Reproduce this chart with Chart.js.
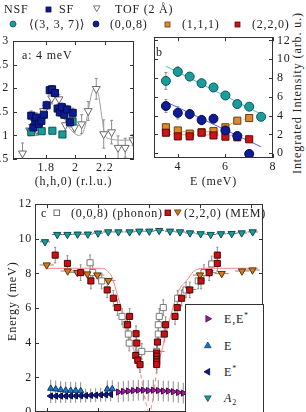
<!DOCTYPE html>
<html>
<head>
<meta charset="utf-8">
<script src="https://cdn.jsdelivr.net/npm/chart.js@4.4.1/dist/chart.umd.min.js"></script>
<style>
html, body { margin: 0; padding: 0; width: 306px; height: 412px; overflow: hidden; background: #fff; }
body { position: relative; font-family: "Liberation Serif", "DejaVu Serif", serif; color: #222; }
canvas { position: absolute; }
.t { position: absolute; font-size: 12px; line-height: 14px; letter-spacing: 0.8px; white-space: nowrap; z-index: 6; }
.rot { position: absolute; transform-origin: 0 0; transform: rotate(-90deg); font-size: 12px; line-height: 14px; letter-spacing: 0.9px; white-space: nowrap; }
#legc { position: absolute; left: 185px; top: 304px; width: 77px; height: 130px; border: 1px solid #333; background: #fff; z-index: 5; }
sup { font-size: 8px; vertical-align: 5px; line-height: 0; }
sub { font-size: 8px; vertical-align: -3px; line-height: 0; }
</style>
</head>
<body>
<canvas id="chartA" width="160" height="165" style="left:-20px;top:30px"></canvas>
<canvas id="chartB" width="150" height="169" style="left:140px;top:26px"></canvas>
<canvas id="chartC" width="275" height="240" style="left:0px;top:194px"></canvas>

<div class="t" style="left:4px;top:2px">NSF</div>
<div class="t" style="left:59px;top:2px">SF</div>
<div class="t" style="left:115px;top:2px">TOF (2 Å)</div>
<div class="t" style="left:29px;top:17px">⟨(3, 3, 7)⟩</div>
<div class="t" style="left:110px;top:17px">(0,0,8)</div>
<div class="t" style="left:182px;top:17px">(1,1,1)</div>
<div class="t" style="left:252px;top:17px">(2,2,0)</div>

<div class="t" style="left:22px;top:48px">a: 4 meV</div>
<div class="t" style="left:156px;top:45px">b</div>
<div class="rot" style="left:290px;top:174px">Integrated Intensity (arb. u.)</div>

<div class="t" style="left:41px;top:206px">c</div>
<div class="t" style="left:71px;top:206px">(0,0,8) (phonon)</div>
<div class="t" style="left:184px;top:206px">(2,2,0) (MEM)</div>
<div class="rot" style="left:5px;top:341px">Energy (meV)</div>

<div id="legc">
  <div class="t" style="left:38px;top:7px">E,E<sup>*</sup></div>
  <div class="t" style="left:38px;top:34px">E</div>
  <div class="t" style="left:38px;top:60px">E<sup>*</sup></div>
  <div class="t" style="left:38px;top:86px"><i>A</i><sub>2</sub></div>
</div>

<script>
// ---- panel a : 4 meV scan along (h,h,0)
const aSfH = [1.698, 1.713, 1.725, 1.732, 1.749, 1.767, 1.784, 1.803, 1.824, 1.840, 1.860, 1.878, 1.893, 1.907, 1.924, 1.943, 1.962, 1.981];
const aSfI = [1.42, 1.17, 1.30, 1.38, 1.25, 1.31, 1.44, 1.64, 1.96, 1.98, 1.90, 1.57, 1.49, 1.60, 1.44, 1.55, 1.28, 1.48];
const aSfErr = [0.1, 0.1, 0.09, 0.1, 0.09, 0.09, 0.09, 0.09, 0.08, 0.08, 0.08, 0.09, 0.09, 0.09, 0.08, 0.09, 0.1, 0.1];
const aNsfH = [1.698, 1.769, 1.842, 1.911, 1.980];
const aNsfI = [1.07, 1.09, 1.10, 1.02, 1.30];
const aNsfErr = [0.06, 0.06, 0.06, 0.06, 0.06];
const aTofH = [1.638, 1.687, 1.736, 1.782, 1.838, 1.887, 1.931, 1.993, 2.042, 2.087, 2.142, 2.193, 2.247, 2.291, 2.340, 2.393];
const aTofI = [0.62, 1.11, 1.12, 1.52, 1.79, 1.77, 1.22, 1.17, 1.24, 1.52, 1.99, 1.03, 1.07, 0.74, 0.74, 0.90];
const aTofErr = [0.22, 0.12, 0.12, 0.12, 0.12, 0.1, 0.12, 0.1, 0.2, 0.2, 0.22, 0.3, 0.25, 0.25, 0.2, 0.12];
const aFitH = [1.92, 1.95, 1.975, 2.0, 2.02, 2.05, 2.07, 2.09, 2.11, 2.136, 2.16, 2.18, 2.2, 2.23, 2.26, 2.3, 2.4];
const aFitI = [1.40, 1.20, 1.10, 1.03, 1.00, 1.05, 1.25, 1.58, 1.88, 2.03, 1.82, 1.40, 1.02, 0.93, 0.91, 0.90, 0.90];
const aTicksX = [1.8, 2.0, 2.2];
const aTicksY = [0.5, 1, 1.5, 2, 2.5, 3];

// ---- panel b : integrated intensity vs energy
const bE = [3.5, 4, 4.5, 5, 5.5, 6, 6.5, 7, 7.5];
const b337 = [7.7, 8.68, 8.16, 7.46, 7.0, 6.15, 5.24, 4.96, 3.88];
const b337Err = [0.9, 0.5, 0.3, 0.3, 0.35, 0.3, 0.3, 0.3, 0.3];
const b008 = [5.03, 4.3, 4.17, 3.54, 3.68, 2.43, 1.84, -0.07];
const b008Err = [0.7, 0.65, 0.5, 0.5, 0.2, 0.3, 0.3, 0.2];
const b111 = [2.77, 2.43, 2.1, 2.25, 2.36, 2.77, 3.47, 3.75];
const b220 = [2.19, 1.8, 1.8, 2.19, 1.9, 1.77, 1.7, 1.49];
const bSmallErr = [0.3, 0.3, 0.3, 0.3, 0.3, 0.3, 0.3, 0.3];
const bFit337E = [3.5, 7.5], bFit337 = [9.27, 4.17];
const bFit008E = [3.5, 7.5], bFit008 = [5.48, 0.69];
const bFit111E = [3.5, 5.5, 6.5, 7], bFit111 = [2.3, 2.3, 3.45, 3.75];
const bFit220E = [3.5, 7], bFit220 = [2.0, 1.9];
const bTicksX = [4, 6, 8];
const bTicksY = [0, 2, 4, 6, 8, 10, 12];

// ---- panel c : dispersion
const cA2Q = [-1.02, -0.90, -0.80, -0.70, -0.60, -0.50, -0.40, -0.30, -0.19, -0.095, 0.003, 0.10, 0.206, 0.304, 0.402, 0.507, 0.605, 0.706, 0.811, 0.909, 1.017];
const cA2E = [9.83, 10.25, 10.25, 10.27, 10.27, 10.33, 10.40, 10.40, 10.40, 10.44, 10.44, 10.48, 10.44, 10.40, 10.34, 10.29, 10.25, 10.29, 10.30, 10.34, 10.40];
const cMemQ = [-1.003, -0.797, -0.703, -0.605, -0.507, -0.399, 0.395, 0.50, 0.593, 0.713, 0.912, 1.015];
const cMemE = [8.49, 8.14, 8.05, 7.97, 7.91, 7.59, 7.07, 7.91, 8.05, 7.99, 8.14, 8.2];
const cRedQ = [-0.92, -0.80, -0.67, -0.57, -0.41, -0.35, -0.31, -0.21, -0.19, -0.127, -0.12, -0.13, -0.11, -0.088,
               0.075, 0.075, 0.075, 0.075, 0.075, 0.083, 0.15, 0.163, 0.255, 0.277, 0.32, 0.40, 0.51, 0.59, 0.67, 0.67];
const cRedE = [9.06, 8.58, 8.05, 7.57, 7.05, 6.57, 6.03, 5.04, 5.52, 4.52, 3.98, 3.26, 2.99, 2.74,
               3.41, 3.22, 3.03, 2.89, 2.74, 4.04, 4.5, 5.04, 5.52, 6.03, 6.57, 7.05, 7.57, 8.05, 8.58, 9.06];
const cPhQ = [-0.578, -0.552, -0.464, -0.265, -0.225, -0.203, -0.194, -0.071, 0.075, 0.091, 0.091, 0.101, 0.140, 0.281, 0.363, 0.483, 0.539, 0.615];
const cPhE = [8.62, 8.05, 7.57, 5.52, 5.04, 4.5, 3.98, 3.5, 3.5, 4.5, 5.04, 5.52, 6.03, 6.57, 7.05, 7.57, 8.05, 8.55];
const cEQ = [-0.964, -0.915, -0.866, -0.817, -0.768, -0.719, -0.670, -0.409, -0.360];
const cEE = [1.36, 1.32, 1.28, 1.25, 1.24, 1.24, 1.22, 1.32, 1.33];
const cEsQ = [-0.964, -0.915, -0.866, -0.817, -0.768, -0.719, -0.670, -0.621, -0.572, -0.523, -0.474, -0.425, -0.376];
const cEsE = [0.92, 0.92, 0.92, 0.92, 0.93, 0.93, 0.94, 0.95, 0.96, 0.97, 0.99, 1.0, 1.02];
const cMixQ = [-0.301, -0.252, -0.203, -0.154, -0.105, -0.056, -0.007, 0.042, 0.091, 0.140, 0.189, 0.238, 0.287, 0.336];
const cMixE = [1.15, 1.19, 1.21, 1.24, 1.26, 1.26, 1.24, 1.26, 1.24, 1.21, 1.21, 1.17, 1.13, 1.09];
const cFitLQ = [-1.003, -0.48, -0.431, -0.402, -0.363, -0.324, -0.235, -0.167, -0.095];
const cFitLE = [8.3, 8.3, 8.25, 8.1, 7.8, 7.05, 5.3, 3.95, 2.55];
const cFitMidQ = [-0.095, 0.005, 0.081];
const cFitMidE = [2.55, 0.0, 2.55];
const cFitRQ = [0.081, 0.287, 0.370, 0.434, 0.48, 0.53, 1.07];
const cFitRE = [2.55, 6.95, 7.6, 8.1, 8.25, 8.3, 8.3];
const cTicksX = [-1, -0.5, 0, 0.5, 1];
const cTicksY = [0, 2, 4, 6, 8, 10, 12];

const serif = 'Liberation Serif';
Chart.defaults.font.family = serif;
Chart.defaults.font.size = 12;
Chart.defaults.color = '#222';

const pts = (xs, ys) => xs.map((x, i) => ({ x: x, y: ys[i] }));
const fmt = v => String(+(+v).toFixed(2));

// error bars, drawn under the markers
const errorBars = {
    id: 'errorBars',
    beforeDatasetsDraw(chart) {
        const { ctx, chartArea: a } = chart;
        const sx = chart.scales.x, sy = chart.scales.y;
        ctx.save();
        ctx.beginPath();
        ctx.rect(a.left, a.top, a.width, a.height);
        ctx.clip();
        ctx.lineWidth = 1;
        chart.data.datasets.forEach(ds => {
            if (!ds.errY && !ds.errX) return;
            const cap = ds.errCap || 0;
            ctx.strokeStyle = ds.errColor || '#8c8c8c';
            ds.data.forEach((p, i) => {
                const px = sx.getPixelForValue(p.x), py = sy.getPixelForValue(p.y);
                const ey = Array.isArray(ds.errY) ? ds.errY[i] : ds.errY;
                const ex = Array.isArray(ds.errX) ? ds.errX[i] : ds.errX;
                ctx.beginPath();
                if (ey) {
                    const y1 = sy.getPixelForValue(p.y + ey), y2 = sy.getPixelForValue(p.y - ey);
                    ctx.moveTo(px, y1); ctx.lineTo(px, y2);
                    if (cap) {
                        ctx.moveTo(px - cap, y1); ctx.lineTo(px + cap, y1);
                        ctx.moveTo(px - cap, y2); ctx.lineTo(px + cap, y2);
                    }
                }
                if (ex) {
                    const x1 = sx.getPixelForValue(p.x - ex), x2 = sx.getPixelForValue(p.x + ex);
                    ctx.moveTo(x1, py); ctx.lineTo(x2, py);
                }
                ctx.stroke();
            });
        });
        ctx.restore();
    }
};

// box with inward ticks on all four sides
const frame = {
    id: 'frame',
    afterDatasetsDraw(chart) {
        const { ctx, chartArea: a } = chart;
        const sx = chart.scales.x, sy = chart.scales.y;
        const L = 4;
        ctx.save();
        ctx.strokeStyle = '#333';
        ctx.lineWidth = 1;
        ctx.strokeRect(Math.round(a.left) + 0.5, Math.round(a.top) + 0.5, Math.round(a.width) - 1, Math.round(a.height) - 1);
        ctx.beginPath();
        sx.ticks.forEach(t => {
            const x = Math.round(sx.getPixelForValue(t.value)) + 0.5;
            ctx.moveTo(x, a.bottom); ctx.lineTo(x, a.bottom - L);
            ctx.moveTo(x, a.top); ctx.lineTo(x, a.top + L);
        });
        sy.ticks.forEach(t => {
            const y = Math.round(sy.getPixelForValue(t.value)) + 0.5;
            ctx.moveTo(a.left, y); ctx.lineTo(a.left + L, y);
            ctx.moveTo(a.right, y); ctx.lineTo(a.right - L, y);
        });
        ctx.stroke();
        ctx.restore();
    }
};

const spacing = {
    id: 'spacing',
    beforeDraw(chart) { chart.ctx.letterSpacing = '0.8px'; }
};

function axis(o) {
    return {
        type: 'linear',
        position: o.position,
        min: o.min,
        max: o.max,
        afterBuildTicks: s => { s.ticks = o.ticks.map(v => ({ value: v })); },
        afterFit: s => { if (s.isHorizontal()) s.height = o.size; else s.width = o.size; },
        grid: { display: false, drawTicks: false },
        border: { display: false },
        ticks: { display: o.labels !== false, padding: o.pad, color: '#222', font: { family: serif, size: 12 }, callback: fmt },
        title: o.title ? { display: true, text: o.title, color: '#222', font: { family: serif, size: 12 }, padding: { top: 0, bottom: 6 } } : { display: false }
    };
}

function marks(xs, ys, style) {
    return Object.assign({ data: pts(xs, ys), pointBorderWidth: 1, showLine: false }, style);
}

function curve(xs, ys, color, dash, order) {
    return {
        data: pts(xs, ys), showLine: true, pointRadius: 0, borderColor: color, borderWidth: 1,
        borderDash: dash || [], cubicInterpolationMode: 'monotone', fill: false, order: order || 10
    };
}

function makeChart(id, datasets, scales, padding) {
    return new Chart(document.getElementById(id), {
        type: 'scatter',
        data: { datasets: datasets },
        options: {
            responsive: false,
            animation: false,
            events: [],
            layout: { padding: padding },
            plugins: { legend: { display: false }, tooltip: { enabled: false } },
            scales: scales
        },
        plugins: [spacing, errorBars, frame]
    });
}

// panel a
makeChart('chartA', [
    marks(aSfH, aSfI, { pointStyle: 'rect', pointRadius: 5, pointBackgroundColor: '#0d1c94', pointBorderColor: '#050c4a', errY: aSfErr, errCap: 1.5 }),
    marks(aNsfH, aNsfI, { pointStyle: 'rect', pointRadius: 5, pointBackgroundColor: '#1a9c9c', pointBorderColor: '#0b5656', errY: aNsfErr, errCap: 1.5 }),
    marks(aTofH, aTofI, { pointStyle: 'triangle', pointRotation: 180, pointRadius: 4.6, pointBackgroundColor: '#ffffff', pointBorderColor: '#6a6a6a', errY: aTofErr, errCap: 1.5 }),
    curve(aFitH, aFitI, '#a0a0a0')
], {
    x: axis({ min: 1.573, max: 2.4, ticks: aTicksX, size: 36, pad: 2, title: '(h,h,0) (r.l.u.)' }),
    y: axis({ min: 0.5, max: 3, ticks: aTicksY, size: 33, pad: 4 })
}, { left: 0, right: 3, top: 9, bottom: 0 });

// panel b
makeChart('chartB', [
    marks(bE, b337, { pointStyle: 'circle', pointRadius: 4.5, pointBackgroundColor: '#1a9c9c', pointBorderColor: '#0b5656', errY: b337Err, errCap: 1.5 }),
    marks(bE.slice(0, 8), b008, { pointStyle: 'circle', pointRadius: 4.5, pointBackgroundColor: '#0d1c94', pointBorderColor: '#050c4a', errY: b008Err, errCap: 1.5 }),
    marks(bE.slice(0, 8), b220, { pointStyle: 'rect', pointRadius: 5, pointBackgroundColor: '#cc1414', pointBorderColor: '#5a0808', errY: bSmallErr, errCap: 1.5 }),
    marks(bE.slice(0, 8), b111, { pointStyle: 'rect', pointRadius: 5, pointBackgroundColor: '#dc8a30', pointBorderColor: '#6a3e0c', errY: bSmallErr, errCap: 1.5 }),
    curve(bFit337E, bFit337, '#45c4c4'),
    curve(bFit008E, bFit008, '#5a5aff'),
    curve(bFit111E, bFit111, '#f0a868', [5, 3]),
    curve(bFit220E, bFit220, '#f59a9a', [5, 3])
], {
    x: axis({ min: 3, max: 8, ticks: bTicksX, size: 37, pad: 2, title: 'E (meV)' }),
    y: axis({ position: 'right', min: -0.5, max: 12.35, ticks: bTicksY, size: 17, pad: 4 })
}, { left: 14, right: 0, top: 9, bottom: 0 });

// panel c
makeChart('chartC', [
    marks(cRedQ, cRedE, { pointStyle: 'rect', pointRadius: 4.3, pointBackgroundColor: '#c81212', pointBorderColor: '#4a0606', errY: 0.45, errCap: 1 }),
    marks(cMemQ, cMemE, { pointStyle: 'triangle', pointRotation: 180, pointRadius: 4.2, pointBackgroundColor: '#d47a18', pointBorderColor: '#5a3208', errX: 0.07, errY: 0.08 }),
    marks(cPhQ, cPhE, { pointStyle: 'rect', pointRadius: 4.3, pointBackgroundColor: '#ffffff', pointBorderColor: '#7a7a7a', errY: 0.45, errX: [0, 0, 0, 0, 0, 0, 0, 0.08, 0.08, 0, 0, 0, 0, 0, 0.05, 0, 0, 0], errCap: 1 }),
    marks(cA2Q, cA2E, { pointStyle: 'triangle', pointRotation: 180, pointRadius: 4.2, pointBackgroundColor: '#1a9c9c', pointBorderColor: '#0b4a4a', errX: 0.05, errColor: '#6e6e6e' }),
    marks(cMixQ, cMixE, { pointStyle: 'triangle', pointRotation: 90, pointRadius: 3.6, pointBackgroundColor: '#a0169e', pointBorderColor: '#4a084a', errY: 0.6 }),
    marks(cEQ, cEE, { pointStyle: 'triangle', pointRadius: 3.6, pointBackgroundColor: '#1c76d4', pointBorderColor: '#0a3a6a', errY: 0.5 }),
    marks(cEsQ, cEsE, { pointStyle: 'triangle', pointRotation: 270, pointRadius: 3.6, pointBackgroundColor: '#0d1a8c', pointBorderColor: '#050a40', errY: 0.4 }),
    curve(cFitLQ, cFitLE, '#ff8080'),
    curve(cFitMidQ, cFitMidE, '#ff8080', [4, 3]),
    curve(cFitRQ, cFitRE, '#ff8080')
], {
    x: axis({ min: -1.118, max: 1.118, ticks: cTicksX, size: 22, pad: 2, labels: false }),
    y: axis({ min: 0, max: 12, ticks: cTicksY, size: 35, pad: 3 })
}, { left: 0, right: 12, top: 9, bottom: 0 });

// legend markers (small svg glyphs next to the real text)
function glyph(shape, cx, cy, r, fill, stroke, rot, parent) {
    const ns = 'http://www.w3.org/2000/svg';
    const s = document.createElementNS(ns, 'svg');
    const w = 2 * r + 4;
    s.setAttribute('width', w);
    s.setAttribute('height', w);
    s.style.position = 'absolute';
    s.style.left = (cx - w / 2) + 'px';
    s.style.top = (cy - w / 2) + 'px';
    s.style.zIndex = 6;
    let el;
    const c = w / 2;
    if (shape === 'circle') {
        el = document.createElementNS(ns, 'circle');
        el.setAttribute('cx', c); el.setAttribute('cy', c); el.setAttribute('r', r);
    } else if (shape === 'rect') {
        el = document.createElementNS(ns, 'rect');
        el.setAttribute('x', c - r); el.setAttribute('y', c - r);
        el.setAttribute('width', 2 * r); el.setAttribute('height', 2 * r);
    } else {
        el = document.createElementNS(ns, 'polygon');
        const p = [0, 120, 240].map(a => {
            const t = (a + rot) * Math.PI / 180;
            return (c + Math.sin(t) * r).toFixed(2) + ',' + (c - Math.cos(t) * r).toFixed(2);
        });
        el.setAttribute('points', p.join(' '));
    }
    el.setAttribute('fill', fill);
    el.setAttribute('stroke', stroke);
    el.setAttribute('stroke-width', 0.8);
    s.appendChild(el);
    (parent || document.body).appendChild(s);
}

glyph('rect', 48, 9, 2.5, '#0d1c94', '#050c4a', 0);
glyph('tri', 97, 8, 3.8, '#ffffff', '#555', 180);
glyph('circle', 13, 24, 3, '#1a9c9c', '#0b5656', 0);
glyph('circle', 96, 24, 3, '#0d1c94', '#050c4a', 0);
glyph('rect', 167, 24, 2.5, '#dc8a30', '#6a3e0c', 0);
glyph('rect', 237, 24, 2.5, '#cc1414', '#5a0808', 0);

glyph('rect', 57, 213, 2.8, '#ffffff', '#555', 0);
glyph('rect', 168, 213, 2.8, '#c81212', '#4a0606', 0);
glyph('tri', 178, 212, 3.8, '#d47a18', '#5a3208', 180);

const legc = document.getElementById('legc');
glyph('tri', 22, 14, 3.8, '#a0169e', '#4a084a', 90, legc);
glyph('tri', 22, 41, 3.8, '#1c76d4', '#0a3a6a', 0, legc);
glyph('tri', 22, 67, 3.8, '#0d1a8c', '#050a40', 270, legc);
glyph('tri', 22, 93, 3.8, '#1a9c9c', '#0b4a4a', 180, legc);
</script>
</body>
</html>
